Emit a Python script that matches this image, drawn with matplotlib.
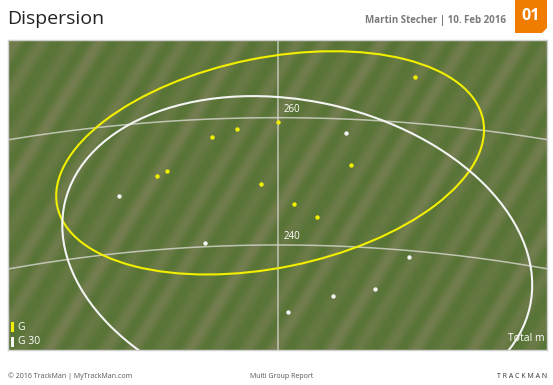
import numpy as np
import matplotlib
matplotlib.use("Agg")
import matplotlib.pyplot as plt
from matplotlib.patches import Ellipse, Rectangle, Polygon

plt.rcParams['font.family'] = ['Open Sans', 'DejaVu Sans']

# shot data: lateral (m), total distance (m)
g_side = [21.5, 0.0, -6.4, -10.4, -17.4, -19.0, 11.5, -2.7, 2.5, 6.1]
g_total = [266.4, 259.3, 258.2, 257.0, 251.6, 250.8, 252.6, 249.6, 246.5, 244.4]
g30_side = [10.7, -25.0, -11.5, 20.6, 15.2, 8.6, 1.6]
g30_total = [257.6, 247.7, 240.3, 238.1, 233.1, 232.0, 229.5]

# dispersion ellipses: center x, center y, width, height, angle
g_ell = (-1.26, 252.9, 68.2, 33.0, 11.5)
g30_ell = (3.0, 238.4, 74.8, 48.4, -12.6)

arc_radii = [240, 260]
groups = ['G', 'G 30']
colors = ['#f2ef00', '#f4f4f4']

W, H = 553, 385
fig = plt.figure(figsize=(W / 100, H / 100), dpi=100)
fig.patch.set_facecolor('white')

# overlay for header / footer in pixel coordinates
over = fig.add_axes([0, 0, 1, 1])
over.set_xlim(0, W)
over.set_ylim(H, 0)
over.axis('off')

over.text(7, 19, 'Dispersion', fontsize=14, color='#222222', va='center', ha='left')
over.text(506, 20, 'Martin Stecher | 10. Feb 2016', fontsize=7, color='#7a7a7a',
          va='center', ha='right', fontweight='bold')
over.add_patch(Polygon([[515, 0], [547, 0], [547, 28], [542, 33], [515, 33]],
                       closed=True, color='#f07d00', lw=0))
over.text(531, 16, '01', fontsize=11.5, color='white', fontweight='bold', va='center', ha='center')

over.text(8, 376, '\u00a9 2016 TrackMan | MyTrackMan.com', fontsize=5, color='#555555', va='center')
over.text(250, 376, 'Multi Group Report', fontsize=5, color='#555555', va='center')
over.text(547, 376, 'T R A C K M A N', fontsize=5, color='#333333', va='center', ha='right')

# main chart
left, right_px, top, bottom = 8, 547, 40, 350
ax = fig.add_axes([left / W, (H - bottom) / H, (right_px - left) / W, (bottom - top) / H])
xmin, xmax = -42.4, 42.2
ymin, ymax = 223.5, 272.2
ax.set_xlim(xmin, xmax)
ax.set_ylim(ymin, ymax)

# striped turf background
nx, ny = 540, 310
X, Y = np.meshgrid(np.arange(nx), np.arange(ny))
ang = np.deg2rad(58)
t = (X * np.sin(ang) + Y * np.cos(ang)) / 24.0
v = 0.5 + 0.5 * np.sin(2 * np.pi * t)
v = v * (0.75 + 0.25 * np.sin(2 * np.pi * (X * np.sin(ang) + Y * np.cos(ang)) / 61.0))
dark = np.array([88, 116, 54]) / 255
light = np.array([116, 126, 80]) / 255
img = dark[None, None, :] * (1 - v[..., None]) + light[None, None, :] * v[..., None]
ax.imshow(img, extent=[xmin, xmax, ymin, ymax], aspect='auto', zorder=0)

# distance arcs and centre line
xs = np.linspace(xmin, xmax, 300)
for r in arc_radii:
    ax.plot(xs, np.sqrt(r ** 2 - xs ** 2), color='#d8d8d0', lw=1.1, alpha=0.8, zorder=1)
    ax.text(0.8, r + 0.4, str(r), color='white', fontsize=7, ha='left', va='bottom', zorder=3)
ax.axvline(0, color='#d8d8d0', lw=1.1, alpha=0.8, zorder=1)

# ellipses
for e, c in zip([g_ell, g30_ell], colors):
    ax.add_patch(Ellipse((e[0], e[1]), e[2], e[3], angle=e[4], fill=False,
                         edgecolor=c, lw=1.5, zorder=2))

ax.scatter(g_side, g_total, s=10, color=colors[0], zorder=4, lw=0)
ax.scatter(g30_side, g30_total, s=10, color=colors[1], zorder=4, lw=0)

# legend
for i, (lab, c) in enumerate(zip(groups, colors)):
    yb = 0.073 - i * 0.046
    ax.add_patch(Rectangle((0.006, yb - 0.016), 0.006, 0.032, transform=ax.transAxes,
                           color=c, lw=0, zorder=5))
    ax.text(0.018, yb, lab, transform=ax.transAxes, color='white', fontsize=7.5,
            va='center', ha='left', zorder=5)

ax.text(0.996, 0.018, 'Total m', transform=ax.transAxes, color='white', fontsize=7.5,
        ha='right', va='bottom', zorder=5)

ax.set_xticks([])
ax.set_yticks([])
for s in ax.spines.values():
    s.set_color('#d0d0d0')
    s.set_linewidth(1)

fig.savefig('out.png', dpi=100)
